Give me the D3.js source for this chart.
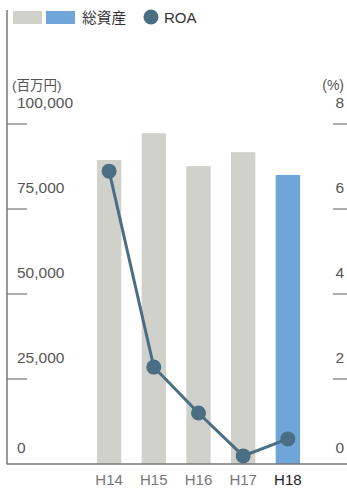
<!DOCTYPE html>
<html><head><meta charset="utf-8">
<script src="https://cdn.jsdelivr.net/npm/d3@7"></script>
<style>body{margin:0;background:#fff}</style>
</head><body>
<svg id="c" width="347" height="488"></svg>
<script>
const categories = ["H14","H15","H16","H17","H18"];
const totalAssets = [89400, 97300, 87600, 91700, 85000];
const roa = [6.89, 2.28, 1.20, 0.19, 0.59];
const leftTicks = [0, 25000, 50000, 75000, 100000];
const rightTicks = [0, 2, 4, 6, 8];

const svg = d3.select("#c");
const font = "'Liberation Sans', Arial, 'Noto Sans CJK JP', sans-serif";
const x = d3.scaleBand().domain(categories).range([88, 309]).paddingInner(0.455).paddingOuter(0.2);
const yL = d3.scaleLinear().domain([0, 100000]).range([464, 124]);
const yR = d3.scaleLinear().domain([0, 8]).range([464, 124]);

// bars
svg.selectAll("rect.bar").data(categories).join("rect")
  .attr("x", d => x(d)).attr("width", x.bandwidth())
  .attr("y", (d,i) => yL(totalAssets[i])).attr("height", (d,i) => yL(0) - yL(totalAssets[i]))
  .attr("fill", (d,i) => i === categories.length-1 ? "#6fa5d8" : "#d1d1cb");

// axes lines
svg.append("line").attr("x1",7).attr("x2",7).attr("y1",10).attr("y2",yL(0)+0.5).attr("stroke","#777").attr("stroke-width",1.5);
svg.append("line").attr("x1",7).attr("x2",347).attr("y1",yL(0)).attr("y2",yL(0)).attr("stroke","#777").attr("stroke-width",1.5);

// ticks and labels
leftTicks.forEach(t => {
  if (t > 0) svg.append("line").attr("x1",7).attr("x2",27).attr("y1",yL(t)).attr("y2",yL(t)).attr("stroke","#777").attr("stroke-width",1.2);
  svg.append("text").attr("x",17).attr("y", t===0 ? yL(t)-11 : yL(t)-16)
    .attr("font-family",font).attr("font-size",15.5).attr("fill","#555")
    .text(d3.format(",")(t));
});
rightTicks.forEach(t => {
  if (t > 0) svg.append("line").attr("x1",333).attr("x2",347).attr("y1",yR(t)).attr("y2",yR(t)).attr("stroke","#777").attr("stroke-width",1.2);
  svg.append("text").attr("x",344).attr("y", t===0 ? yR(t)-11 : yR(t)-16).attr("text-anchor","end")
    .attr("font-family",font).attr("font-size",15.5).attr("fill","#555").text(t);
});
svg.append("text").attr("x",12).attr("y",90).attr("font-family",font).attr("font-size",13.5).attr("fill","#555").text("(百万円)");
svg.append("text").attr("x",344).attr("y",90).attr("text-anchor","end").attr("font-family",font).attr("font-size",14).attr("fill","#555").text("(%)");

// x labels
svg.selectAll("text.xl").data(categories).join("text")
  .attr("x", d => x(d)+x.bandwidth()/2).attr("y",485).attr("text-anchor","middle")
  .attr("font-family",font).attr("font-size",15).attr("fill",(d,i)=> i===categories.length-1 ? "#222" : "#777").text(d=>d);

// line
const line = d3.line().x((d,i)=>x(categories[i])+x.bandwidth()/2).y(d=>yR(d));
svg.append("path").datum(roa).attr("d",line).attr("fill","none").attr("stroke","#4a6e84").attr("stroke-width",3);
svg.selectAll("circle.pt").data(roa).join("circle")
  .attr("cx",(d,i)=>x(categories[i])+x.bandwidth()/2).attr("cy",d=>yR(d)).attr("r",7.5).attr("fill","#4a6e84");

// legend
svg.append("rect").attr("x",13).attr("y",11).attr("width",29).attr("height",13).attr("fill","#d1d1cb");
svg.append("rect").attr("x",46).attr("y",11).attr("width",29).attr("height",13).attr("fill","#6fa5d8");
svg.append("text").attr("x",82).attr("y",23).attr("font-family","'Noto Sans CJK JP', sans-serif").attr("font-size",14.7).attr("fill","#333").text("総資産");
svg.append("circle").attr("cx",151).attr("cy",17).attr("r",7.5).attr("fill","#4a6e84");
svg.append("text").attr("x",164).attr("y",23).attr("font-family",font).attr("font-size",15).attr("fill","#333").text("ROA");
</script>
</body></html>
